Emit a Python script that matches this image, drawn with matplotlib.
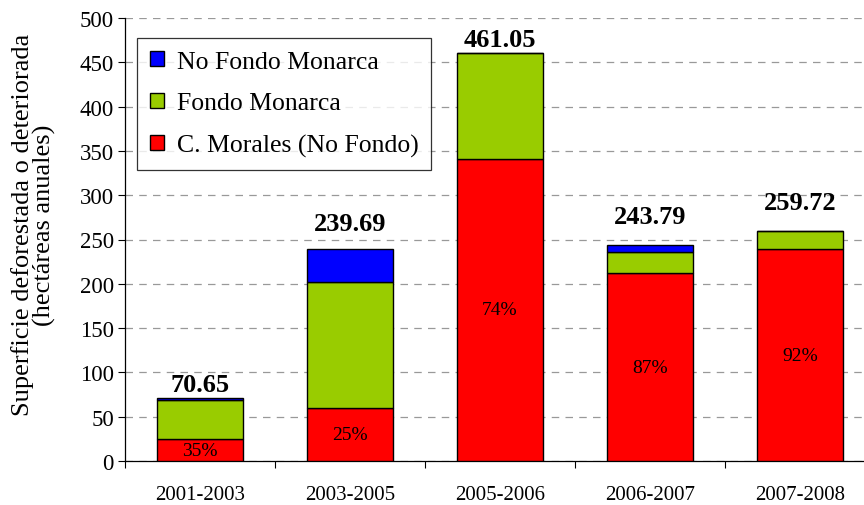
import matplotlib
matplotlib.use("Agg")
import matplotlib.pyplot as plt
import numpy as np

categories = ["2001-2003", "2003-2005", "2005-2006", "2006-2007", "2007-2008"]
morales = [24.7, 59.9, 341.2, 212.1, 238.9]
fondo = [44.5, 142.1, 119.85, 24.0, 20.82]
no_fondo = [1.45, 37.69, 0.0, 7.69, 0.0]
totals = [70.65, 239.69, 461.05, 243.79, 259.72]
pct_labels = ["35%", "25%", "74%", "87%", "92%"]
total_labels = ["70.65", "239.69", "461.05", "243.79", "259.72"]
label_offsets_pt = [5, 13.5, 4.5, 16, 16]

plt.rcParams['font.family'] = ['Liberation Serif', 'DejaVu Serif']

fig = plt.figure(figsize=(8.64, 5.06), dpi=100)
ax = fig.add_axes([125/864, 1-462/506, 750/864, 443/506])

x = np.arange(len(categories))
w = 0.57
ec = 'black'
lw = 1.0
b1 = ax.bar(x, morales, w, color='#FF0000', edgecolor=ec, linewidth=lw, label='C. Morales (No Fondo)', zorder=3)
b2 = ax.bar(x, fondo, w, bottom=morales, color='#99CC00', edgecolor=ec, linewidth=lw, label='Fondo Monarca', zorder=3)
bot3 = np.array(morales) + np.array(fondo)
b3 = ax.bar(x, no_fondo, w, bottom=bot3, color='#0000FF', edgecolor=ec, linewidth=lw, label='No Fondo Monarca', zorder=3)

for i in range(len(categories)):
    ax.text(x[i], morales[i] / 2, pct_labels[i], ha='center', va='center', fontsize=14, zorder=4)
    ax.annotate(total_labels[i], (x[i], totals[i]), xytext=(0, label_offsets_pt[i]), textcoords='offset points',
                ha='center', va='baseline', fontsize=19, fontweight='bold')

ax.set_xlim(-0.5, len(categories) - 0.5)
ax.set_ylim(0, 500)
ax.set_yticks(np.arange(0, 501, 50))
ax.set_xticks(x)
ax.set_xticklabels(categories, fontsize=15)
ax.set_xticks(np.arange(-0.5, len(categories), 1.0), minor=True)
ax.tick_params(axis='x', which='major', length=0, pad=17)
ax.tick_params(axis='x', which='minor', length=5, direction='out', width=0.8)
ax.tick_params(axis='y', labelsize=16.5, length=5, direction='out', width=0.8, pad=3)
ax.yaxis.grid(True, linestyle=(0, (6, 5)), color='#999999', linewidth=0.9, zorder=0)
ax.set_axisbelow(True)
for s in ['top', 'right']:
    ax.spines[s].set_visible(False)
ax.spines['left'].set_linewidth(0.9)
ax.spines['bottom'].set_linewidth(0.9)

ax.set_ylabel("Superficie deforestada o deteriorada\n(hectáreas anuales)", fontsize=19, linespacing=0.95)
ax.yaxis.set_label_coords(-0.092, 0.535)

handles = [b3, b2, b1]
leg = ax.legend(handles=handles, labels=[h.get_label() for h in handles], loc='upper left',
                bbox_to_anchor=(12/750, 1-20/443), fontsize=18.5, frameon=True, fancybox=False,
                edgecolor='black', handlelength=0.55, handleheight=0.55, handletextpad=0.5,
                labelspacing=0.76, borderpad=0.5, borderaxespad=0)
leg.get_frame().set_linewidth(0.9)
leg.set_zorder(5)

fig.savefig("out.png", dpi=100)
